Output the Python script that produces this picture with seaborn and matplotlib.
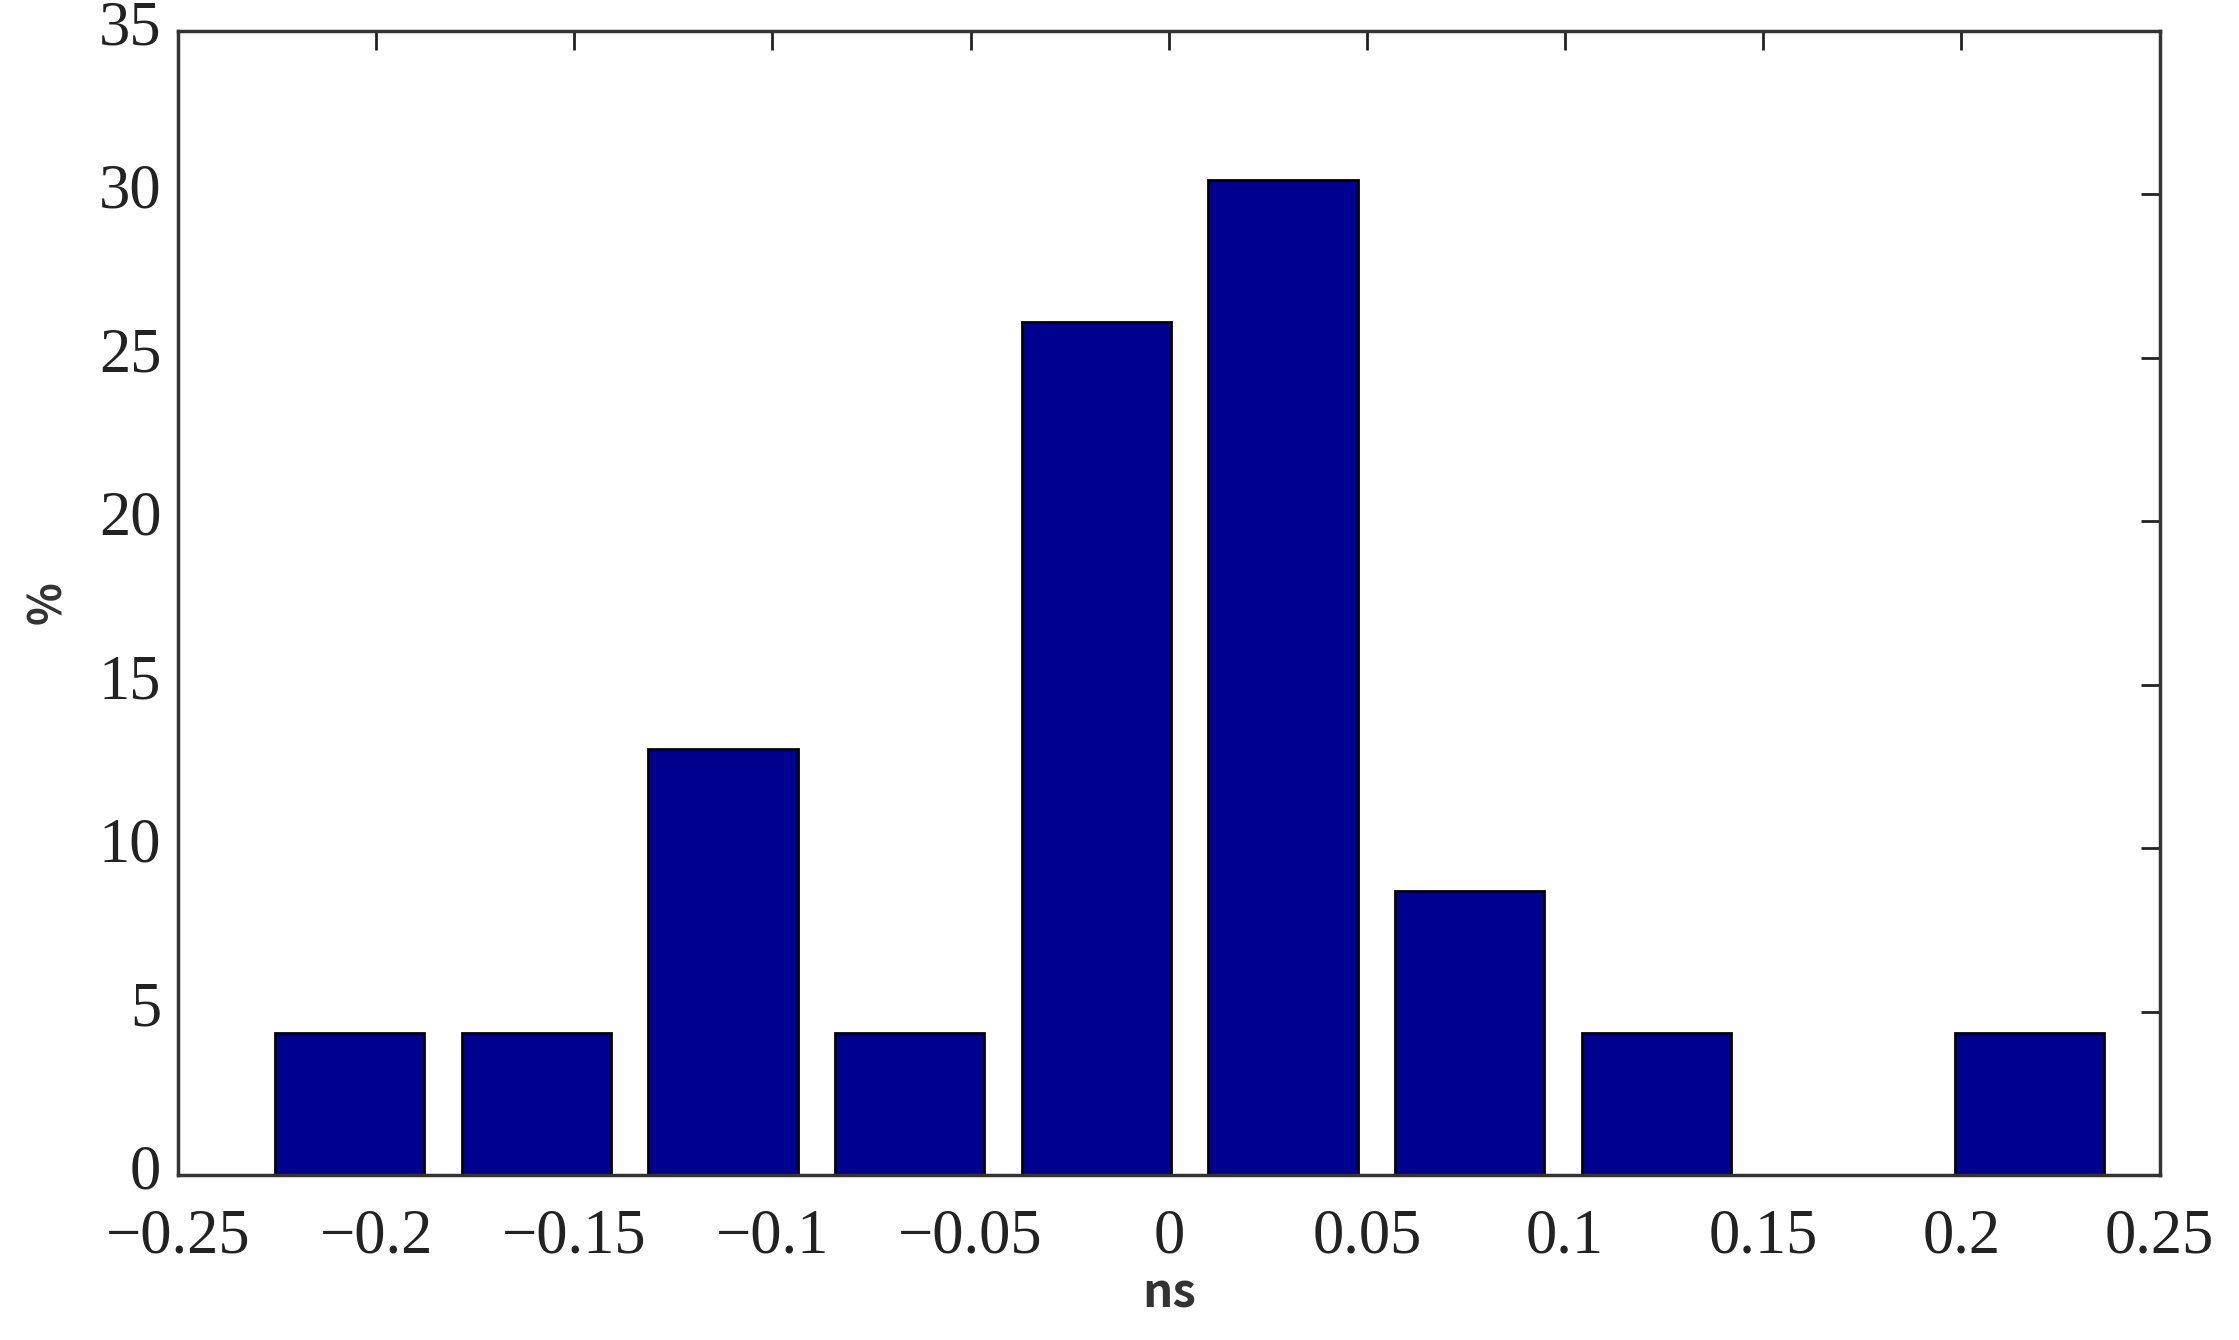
import matplotlib
matplotlib.use("Agg")
import matplotlib.pyplot as plt
import matplotlib.transforms as mtrans
import seaborn as sns
import pandas as pd

# histogram bin centres (ns) and share of samples (%)
bin_centres = [-0.2067, -0.1596, -0.1125, -0.0654, -0.0183, 0.0288, 0.0759, 0.1230, 0.1701, 0.2172]
percent = [4.35, 4.35, 13.04, 4.35, 26.09, 30.43, 8.70, 4.35, 0.0, 4.35]

x_ticks = [-0.25, -0.2, -0.15, -0.1, -0.05, 0, 0.05, 0.1, 0.15, 0.2, 0.25]
x_ticklabels = ["\u22120.25", "\u22120.2", "\u22120.15", "\u22120.1", "\u22120.05", "0",
                "0.05", "0.1", "0.15", "0.2", "0.25"]
y_ticks = [0, 5, 10, 15, 20, 25, 30, 35]

df = pd.DataFrame({"ns": bin_centres, "pct": percent})

sns.set_theme(style="white")
plt.rcParams["font.family"] = ["Liberation Serif", "DejaVu Serif"]

fig = plt.figure(figsize=(22.39, 13.40), dpi=100)
ax = fig.add_axes([0.0795, 0.123, 0.885, 0.854])

sns.barplot(data=df, x="ns", y="pct", native_scale=True, color="#00008F",
            saturation=1, width=0.8, edgecolor="black", linewidth=2, ax=ax)

ax.set_xlim(-0.25, 0.25)
ax.set_ylim(0, 35)
ax.set_xticks(x_ticks)
ax.set_xticklabels(x_ticklabels)
ax.set_yticks(y_ticks)
ax.set_axisbelow(True)

ax.tick_params(axis="both", direction="in", length=14, width=2, color="#222222",
               top=True, right=True, labelsize=45, labelcolor="#222222")
ax.tick_params(axis="x", pad=24)
ax.tick_params(axis="y", pad=12)
# y labels sit a little above their ticks, as in the original
lift = mtrans.ScaledTranslation(0, 6 / 72, fig.dpi_scale_trans)
for lab in ax.get_yticklabels():
    lab.set_verticalalignment("center_baseline")
    lab.set_transform(lab.get_transform() + lift)
for s in ax.spines.values():
    s.set_visible(True)
    s.set_color("#333333")
    s.set_linewidth(2.5)

ax.set_xlabel("ns", family=["Noto Sans CJK SC", "DejaVu Sans"], fontsize=34,
              fontweight="bold", color="#333333", labelpad=2)
ax.set_ylabel("%", family=["Noto Sans CJK SC", "DejaVu Sans"], fontsize=32,
              fontweight="bold", color="#333333", labelpad=20)

fig.savefig("out.png", dpi=100)
